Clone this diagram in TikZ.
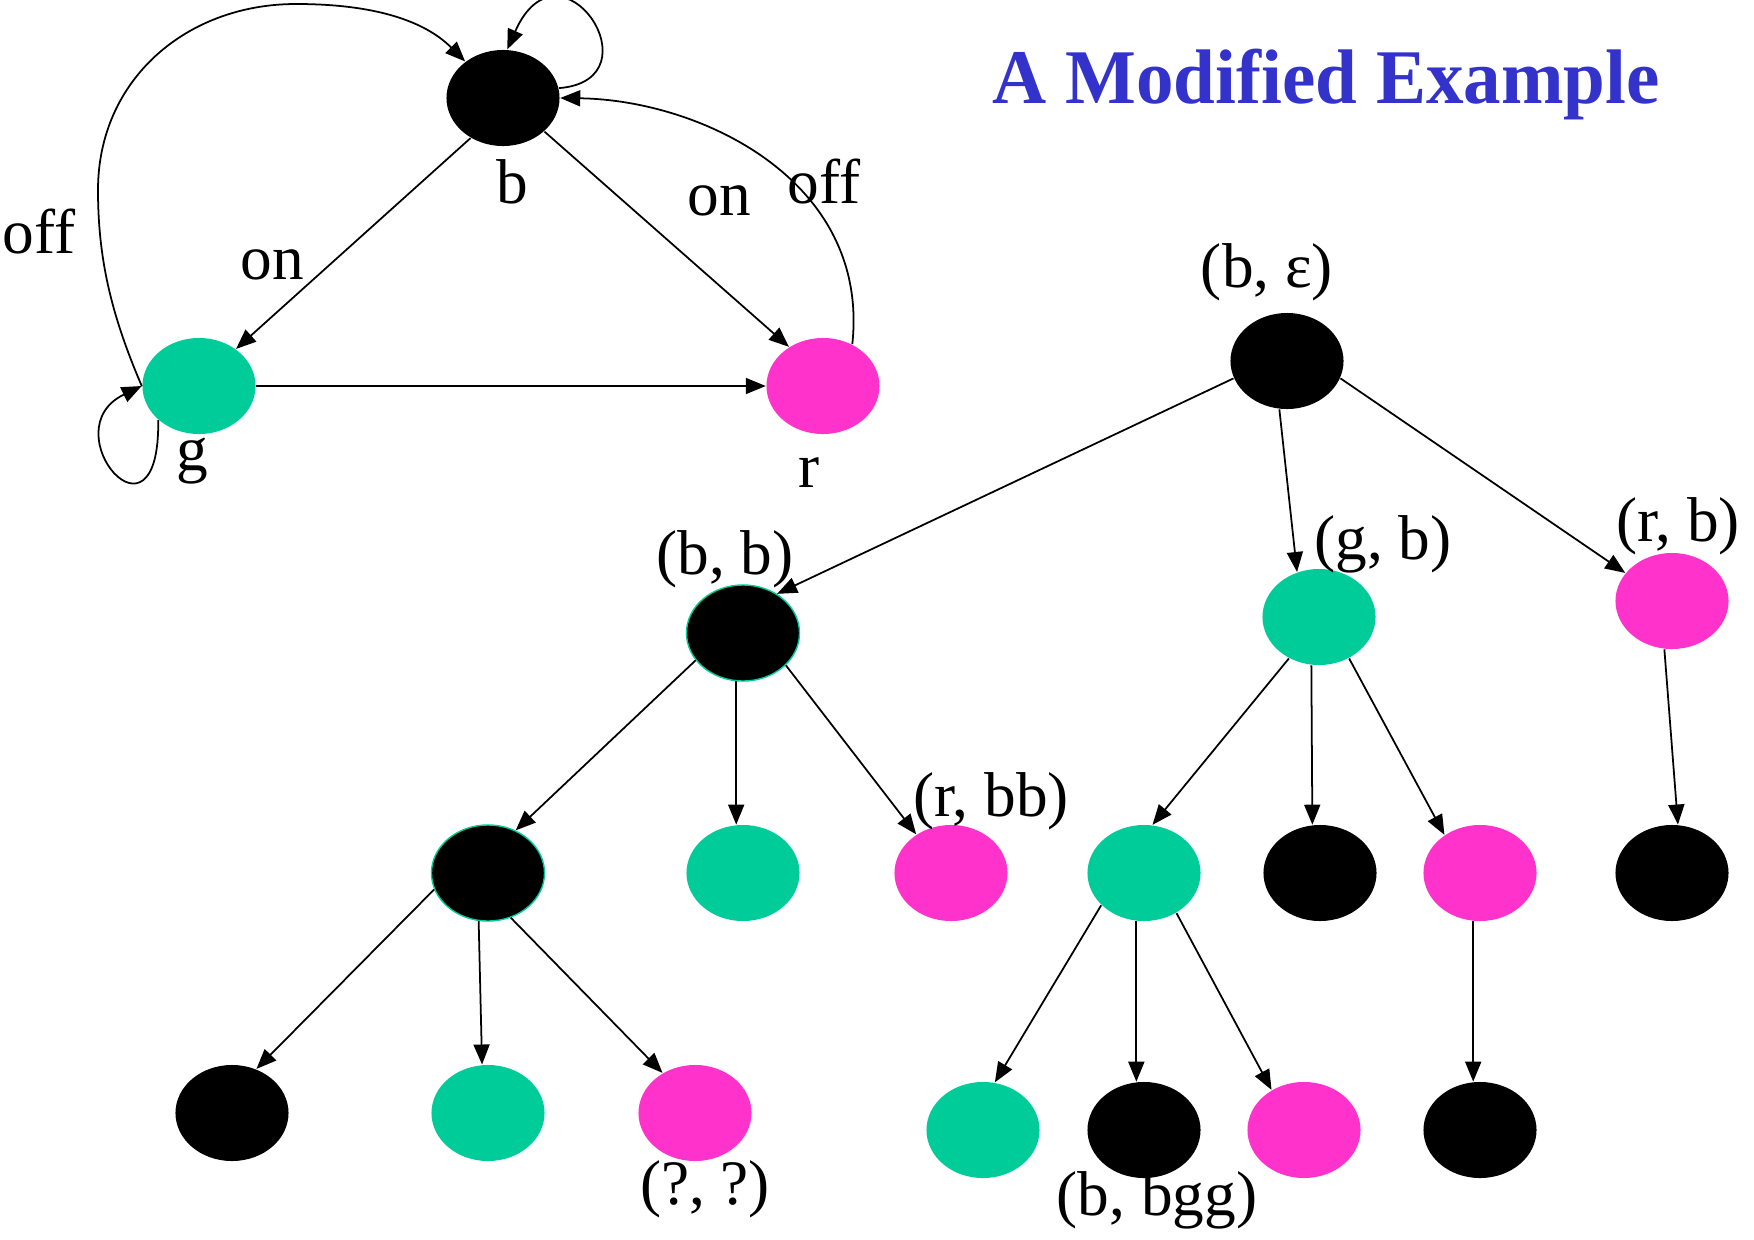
\documentclass[tikz,border=0pt]{standalone}
\usepackage{fontspec}
\setmainfont{Liberation Serif}
\usepackage{tikz}
\usetikzlibrary{arrows.meta, shapes.geometric}
\definecolor{stgreen}{RGB}{0,204,153}
\definecolor{stpink}{RGB}{255,51,204}
\definecolor{ttlblue}{RGB}{51,51,204}

\begin{document}
\begin{tikzpicture}[
    x=0.01cm, y=-0.01cm,
    st/.style={ellipse, inner sep=0pt, minimum width=1.13cm, minimum height=0.96cm},
    blk/.style={st, fill=black},
    blkg/.style={st, fill=black, draw=stgreen, line width=0.4pt},
    grn/.style={st, fill=stgreen},
    pnk/.style={st, fill=stpink},
    lbl/.style={font=\fontsize{18}{20}\selectfont, inner sep=0pt},
    edge/.style={-{Triangle[length=0.2cm, width=0.16cm]}, line width=0.5pt},
]
\useasboundingbox (0,0) rectangle (1754,1239);

\node[font=\fontsize{22}{26}\selectfont\bfseries, text=ttlblue, transform shape, xscale=0.97] (title) at (1326,84) {A Modified Example};

\node[blk] (b) at (503,98) {};
\node[grn] (g) at (199,386) {};
\node[pnk] (r) at (823,386) {};
\node[lbl] (lb) at (512,182) {b};
\node[lbl] (lg) at (192,461) {g};
\node[lbl] (lr) at (809,473) {r};
\node[lbl] (off1) at (39,232) {off};
\node[lbl] (on1) at (272,265) {on};
\node[lbl] (on2) at (719,201) {on};
\node[lbl] (off2) at (824,182) {off};

\draw[edge] (b.231) -- (g.45);
\draw[edge] (b.321) -- (r.131);
\draw[edge] (g.east) -- (r.west);
\draw[edge] (g.west) .. controls +(-30,-70) and +(0,70) .. (98,190)
    .. controls +(0,-110) and +(-110,0) .. (296,4)
    .. controls +(80,0) and +(-40,-40) .. (b.136);
\draw[edge] (b.10) .. controls (660,80) and (560,-70) .. (b.85);
\draw[edge] (r.55) .. controls (870,180) and (700,100) .. (b.east);
\draw[edge] (g.220) .. controls (160,560) and (50,430) .. (g.west);

\node[blk] (be) at (1287,361) {};
\node[blkg] (bb) at (743,633) {};
\node[grn] (gb) at (1319,617) {};
\node[pnk] (rb) at (1672,601) {};

\node[blkg] (bbb) at (488,873) {};
\node[grn] (bbg) at (743,873) {};
\node[pnk] (bbr) at (951,873) {};
\node[grn] (gbg) at (1144,873) {};
\node[blk] (gbb) at (1320,873) {};
\node[pnk] (gbr) at (1480,873) {};
\node[blk] (rbb) at (1672,873) {};

\node[blk] (bbbb) at (232,1113) {};
\node[grn] (bbbg) at (488,1113) {};
\node[pnk] (bbbr) at (695,1113) {};
\node[grn] (gbgg) at (983,1130) {};
\node[blk] (gbgb) at (1144,1130) {};
\node[pnk] (gbgr) at (1304,1130) {};
\node[blk] (gbrb) at (1480,1130) {};

\node[lbl] (lbe) at (1267,272) {(b, ε)};
\node[lbl] (lbb) at (725,559) {(b, b)};
\node[lbl] (lgb) at (1383,544) {(g, b)};
\node[lbl] (lrb) at (1678,526) {(r, b)};
\node[lbl] (lbbr) at (991,801) {(r, bb)};
\node[lbl] (lqq) at (705,1189) {(?, ?)};
\node[lbl] (lbgg) at (1157,1200) {(b, bgg)};

\draw[edge] (be.198) -- (bb.49);
\draw[edge] (be.261) -- (gb.116);
\draw[edge] (be.342) -- (rb.149);
\draw[edge] (bb.210) -- (bbb.57);
\draw[edge] (bb.262) -- (bbg.98);
\draw[edge] (bb.323) -- (bbr.132);
\draw[edge] (bbb.197) -- (bbbb.61);
\draw[edge] (bbb.259) -- (bbbg.97);
\draw[edge] (bbb.297) -- (bbbr.129);
\draw[edge] (gb.234) -- (gbg.80);
\draw[edge] (gb.261) -- (gbb.99);
\draw[edge] (gb.306) -- (gbr.133);
\draw[edge] (rb.261) -- (rbb.83);
\draw[edge] (gbg.217) -- (gbgg.76);
\draw[edge] (gbg.261) -- (gbgb.99);
\draw[edge] (gbg.309) -- (gbgr.129);
\draw[edge] (gbr.262) -- (gbrb.98);
\end{tikzpicture}
\end{document}
